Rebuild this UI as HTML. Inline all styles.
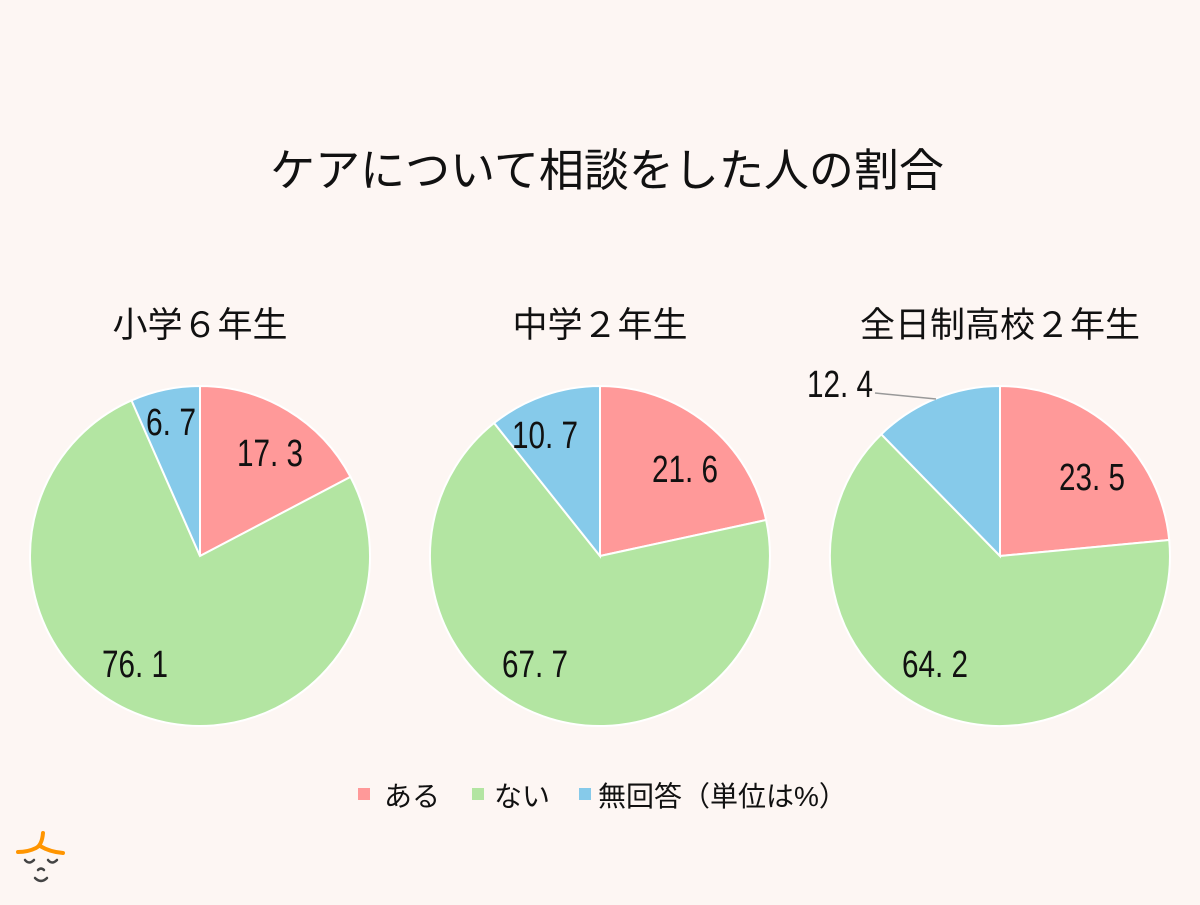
<!DOCTYPE html>
<html><head><meta charset="utf-8"><style>
html,body{margin:0;padding:0;background:#FDF6F3;}
svg text{font-family:"Liberation Sans","Noto Sans CJK JP",sans-serif;}
.n{font-family:"Liberation Sans Narrow","Liberation Sans",sans-serif;font-size:38px;fill:#111;}
</style></head><body>
<svg width="1200" height="900" viewBox="0 0 1200 900" xmlns="http://www.w3.org/2000/svg">
<rect width="1200" height="900" fill="#FDF6F3"/>
<text x="607" y="186" text-anchor="middle" font-size="45" fill="#111">ケアについて相談をした人の割合</text>
<g font-size="35" fill="#111" text-anchor="middle">
<text x="200" y="337">小学６年生</text>
<text x="600" y="337">中学２年生</text>
<text x="1000" y="337">全日制高校２年生</text>
</g>
<g stroke="#fff" stroke-width="2">
<path d="M200 556 L200 386 A170 170 0 0 1 350.5 476.9 Z" fill="#FF9999"/>
<path d="M200 556 L350.5 476.9 A170 170 0 1 1 131.5 400.4 Z" fill="#B3E5A2"/>
<path d="M200 556 L131.5 400.4 A170 170 0 0 1 200 386 Z" fill="#86CAEA"/>
<path d="M600 556 L600 386 A170 170 0 0 1 766.1 520 Z" fill="#FF9999"/>
<path d="M600 556 L766.1 520 A170 170 0 1 1 494.1 423 Z" fill="#B3E5A2"/>
<path d="M600 556 L494.1 423 A170 170 0 0 1 600 386 Z" fill="#86CAEA"/>
<path d="M1000 556 L1000 386 A170 170 0 0 1 1169.2 540 Z" fill="#FF9999"/>
<path d="M1000 556 L1169.2 540 A170 170 0 1 1 881.3 434.3 Z" fill="#B3E5A2"/>
<path d="M1000 556 L881.3 434.3 A170 170 0 0 1 1000 386 Z" fill="#86CAEA"/>
</g>
<line x1="875" y1="393" x2="936" y2="399" stroke="#999" stroke-width="1.5"/>
<g class="n" lengthAdjust="spacingAndGlyphs">
<text x="237" y="466" textLength="66" lengthAdjust="spacingAndGlyphs">17. 3</text>
<text x="146" y="435" textLength="50" lengthAdjust="spacingAndGlyphs">6. 7</text>
<text x="102" y="677" textLength="66" lengthAdjust="spacingAndGlyphs">76. 1</text>
<text x="652" y="482" textLength="66" lengthAdjust="spacingAndGlyphs">21. 6</text>
<text x="512" y="448" textLength="66" lengthAdjust="spacingAndGlyphs">10. 7</text>
<text x="502" y="677" textLength="66" lengthAdjust="spacingAndGlyphs">67. 7</text>
<text x="1059" y="490" textLength="66" lengthAdjust="spacingAndGlyphs">23. 5</text>
<text x="902" y="677" textLength="66" lengthAdjust="spacingAndGlyphs">64. 2</text>
<text x="807" y="397" textLength="66" lengthAdjust="spacingAndGlyphs">12. 4</text>
</g>
<rect x="358" y="788" width="12" height="12" fill="#FF9999"/>
<text x="384" y="806" font-size="28" fill="#111">ある</text>
<rect x="472" y="788" width="12" height="12" fill="#B3E5A2"/>
<text x="494" y="806" font-size="28" fill="#111">ない</text>
<rect x="579" y="788" width="12" height="12" fill="#86CAEA"/>
<text x="598" y="806" font-size="28" fill="#111">無回答（単位は%）</text>
<g fill="none" stroke-linecap="round">
<path d="M43 833 Q42 845 36 848 Q28 852 18 852 M40 846 Q50 852 63 853" stroke="#FF9500" stroke-width="4"/>
<path d="M25 860 Q29 865 34 860 M48 860 Q52 865 57 860 M35 878 Q41 884 47 878 M38 870 Q41 867 44 870" stroke="#444" stroke-width="2.5"/>
</g>
</svg>
</body></html>
